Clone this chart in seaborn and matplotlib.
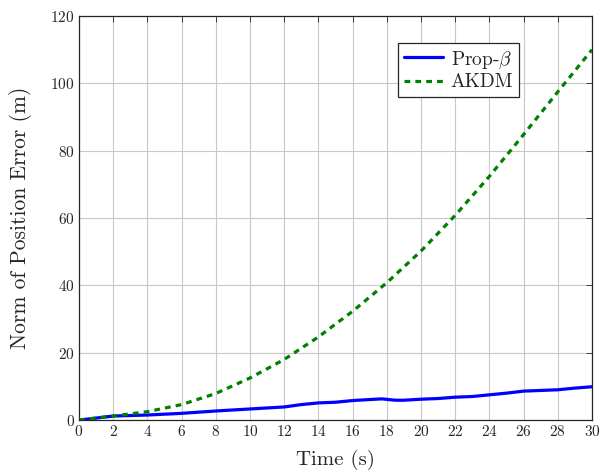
import pandas as pd
import numpy as np
import matplotlib
matplotlib.use("Agg")
import matplotlib.pyplot as plt
import seaborn as sns

# Values
time_prop = [0, 1, 2, 4, 6, 8, 10, 12, 13, 14, 15, 16, 17, 17.7, 18.5, 19,
             20, 21, 22, 23, 24, 25, 26, 27, 28, 29, 30]
err_prop = [0, 0.6, 1.2, 1.5, 2.0, 2.7, 3.3, 3.9, 4.6, 5.1, 5.3, 5.8, 6.1, 6.3, 5.9, 5.9,
            6.2, 6.4, 6.8, 7.0, 7.5, 8.0, 8.6, 8.8, 9.0, 9.5, 9.9]

time_akdm = [0, 2, 4, 6, 8, 10, 12, 14, 16, 18, 20, 22, 24, 26, 28, 30]
err_akdm = [0, 1.2, 2.5, 4.6, 7.9, 12.5, 18.0, 24.7, 32.3, 40.8, 50.2, 60.8, 72.4, 84.8, 97.5, 110.0]

sns.set_theme(style="whitegrid")
plt.rcParams["font.family"] = "serif"
plt.rcParams["font.serif"] = ["cmr10", "DejaVu Serif"]
plt.rcParams["mathtext.fontset"] = "cm"
plt.rcParams["axes.formatter.use_mathtext"] = True

df_prop = pd.DataFrame({"t": time_prop, "err": err_prop})
df_akdm = pd.DataFrame({"t": time_akdm, "err": err_akdm})

fig = plt.figure(figsize=(6.1, 4.72), dpi=100)
ax = fig.add_axes([0.1295, 0.110, 0.841, 0.856])

sns.lineplot(data=df_prop, x="t", y="err", ax=ax, color="#0000ff", linewidth=2.3,
             label=r"Prop-$\beta$")
sns.lineplot(data=df_akdm, x="t", y="err", ax=ax, color="#008000", linewidth=2.3,
             label="AKDM")
ax.lines[1].set_dashes((1.8, 1.6))

ax.set_xlim(0, 30)
ax.set_ylim(0, 120)
ax.set_xticks(np.arange(0, 31, 2))
ax.set_yticks(np.arange(0, 121, 20))
ax.tick_params(axis="both", labelsize=11, direction="in", length=4, width=0.6,
               top=True, right=True, pad=3, colors="#262626")
ax.set_xlabel("Time (s)", fontsize=15, labelpad=8)
ax.set_ylabel("Norm of Position Error (m)", fontsize=15.5, labelpad=13)

ax.grid(True, color="#c8c8c8", linewidth=0.8)
for s in ax.spines.values():
    s.set_color("#262626")
    s.set_linewidth(0.9)

leg = ax.legend(loc="upper right", bbox_to_anchor=(0.858, 0.933), fontsize=14,
                frameon=True, fancybox=False, framealpha=1, edgecolor="#262626",
                handlelength=2.0, handletextpad=0.4, borderpad=0.3, labelspacing=0.15,
                borderaxespad=0)
leg.get_frame().set_linewidth(0.9)

fig.savefig("out.png", dpi=100)
